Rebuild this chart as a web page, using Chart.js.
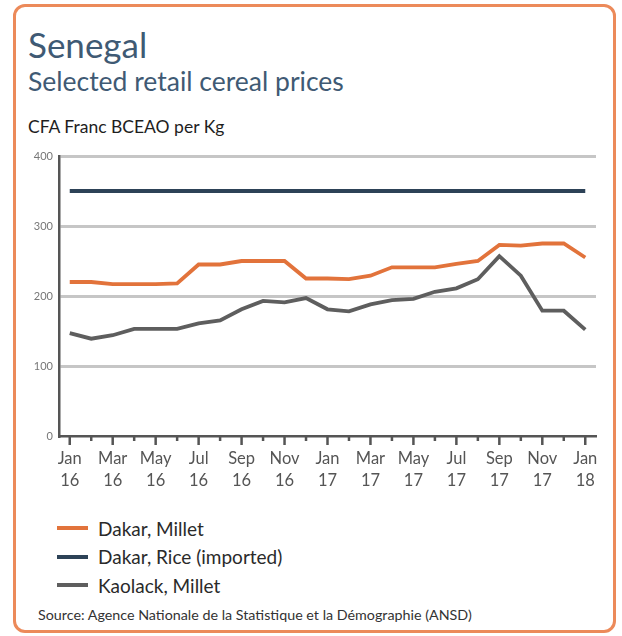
<!DOCTYPE html>
<html>
<head>
<meta charset="utf-8">
<script src="https://cdn.jsdelivr.net/npm/chart.js@4.4.1/dist/chart.umd.min.js"></script>
<style>
  body { margin: 0; background: #fff; font-family: Lato, sans-serif; }
  #card { position: absolute; left: 13px; top: 4px; width: 597px; height: 623px;
          border: 3px solid #ec8a5a; border-radius: 12px; background: #fff; }
  .t { position: absolute; white-space: nowrap; }
  #title { left: 28px; top: 23px; font-size: 35px; color: #3f5a74; }
  #subtitle { left: 28px; top: 65px; font-size: 26.5px; color: #3f5a74; }
  #unit { left: 28px; top: 116px; font-size: 17.5px; color: #1e1e1e; }
  #legend { position: absolute; left: 57px; top: 514px; }
  .item { height: 28.5px; display: flex; align-items: center; font-size: 19px; color: #2a2a2a; }
  .swatch { width: 31px; height: 4px; margin-right: 10px; }
  #source { left: 38px; top: 606px; font-size: 14.3px; color: #333; }
  #wrap { position: absolute; left: 0; top: 0; width: 622px; height: 500px; }
</style>
</head>
<body>
<div id="card"></div>
<div class="t" id="title">Senegal</div>
<div class="t" id="subtitle">Selected retail cereal prices</div>
<div class="t" id="unit">CFA Franc BCEAO per Kg</div>
<div id="wrap"><canvas id="chart"></canvas></div>
<div id="legend"></div>
<div class="t" id="source">Source: Agence Nationale de la Statistique et la Démographie (ANSD)</div>
<script>
// monthly, Jan 16 .. Jan 18
var months = ['Jan 16', 'Feb 16', 'Mar 16', 'Apr 16', 'May 16', 'Jun 16', 'Jul 16', 'Aug 16',
  'Sep 16', 'Oct 16', 'Nov 16', 'Dec 16', 'Jan 17', 'Feb 17', 'Mar 17', 'Apr 17', 'May 17',
  'Jun 17', 'Jul 17', 'Aug 17', 'Sep 17', 'Oct 17', 'Nov 17', 'Dec 17', 'Jan 18'];

var dakarMillet = [220, 220, 217, 217, 217, 218, 245, 245, 250, 250, 250, 225, 225,
  224, 229, 241, 241, 241, 246, 250, 273, 272, 275, 275, 255];
var dakarRice = [350, 350, 350, 350, 350, 350, 350, 350, 350, 350, 350, 350, 350,
  350, 350, 350, 350, 350, 350, 350, 350, 350, 350, 350, 350];
var kaolackMillet = [147, 139, 144, 153, 153, 153, 161, 165, 181, 193, 191, 197, 181,
  178, 188, 194, 196, 206, 211, 224, 257, 229, 179, 179, 152];

var yTicks = [0, 100, 200, 300, 400];

var series = [
  { label: 'Dakar, Millet', data: dakarMillet, color: '#e2733b' },
  { label: 'Dakar, Rice (imported)', data: dakarRice, color: '#2d4257' },
  { label: 'Kaolack, Millet', data: kaolackMillet, color: '#5e5e5e' }
];

// small tick marks under the x axis, longer on labelled months
var xTickMarks = {
  id: 'xTickMarks',
  afterDraw: function (chart) {
    var ctx = chart.ctx, xs = chart.scales.x, bottom = chart.chartArea.bottom;
    ctx.save();
    ctx.strokeStyle = '#555';
    ctx.lineWidth = 2.5;
    for (var i = 0; i < months.length; i++) {
      var x = xs.getPixelForTick(i);
      ctx.beginPath();
      ctx.moveTo(x, bottom);
      ctx.lineTo(x, bottom + (i % 2 === 0 ? 9 : 5));
      ctx.stroke();
    }
    ctx.restore();
  }
};

new Chart(document.getElementById('chart'), {
  type: 'line',
  data: {
    labels: months,
    datasets: series.map(function (s) {
      return {
        label: s.label,
        data: s.data,
        borderColor: s.color,
        backgroundColor: s.color,
        borderWidth: 3.8,
        pointRadius: 0,
        tension: 0,
        fill: false
      };
    })
  },
  options: {
    responsive: true,
    maintainAspectRatio: false,
    animation: false,
    layout: { padding: { left: 19, right: 26, top: 156, bottom: 0 } },
    plugins: { legend: { display: false }, tooltip: { enabled: false } },
    scales: {
      x: {
        offset: true,
        afterFit: function (scale) { scale.height = 64; },
        grid: { offset: false, drawOnChartArea: false, drawTicks: false },
        border: { display: true, color: '#555', width: 2.5 },
        ticks: {
          autoSkip: false,
          maxRotation: 0,
          padding: 12,
          color: '#555',
          font: { family: 'Lato', size: 16.5, lineHeight: 1.3 },
          callback: function (v, i) { return i % 2 === 0 ? months[i].split(' ') : ''; }
        }
      },
      y: {
        min: 0,
        max: 400,
        afterFit: function (scale) { scale.width = 40; },
        afterBuildTicks: function (scale) { scale.ticks = yTicks.map(function (v) { return { value: v }; }); },
        grid: {
          drawTicks: false,
          lineWidth: 3,
          color: function (c) { return c.tick && c.tick.value === 0 ? 'rgba(0,0,0,0)' : '#c6c6c6'; }
        },
        border: { display: true, color: '#555', width: 2.5 },
        ticks: { padding: 6, color: '#777', font: { family: 'Lato', size: 11 } }
      }
    }
  },
  plugins: [xTickMarks]
});

var legend = document.getElementById('legend');
series.forEach(function (s) {
  var row = document.createElement('div');
  row.className = 'item';
  var sw = document.createElement('span');
  sw.className = 'swatch';
  sw.style.background = s.color;
  row.appendChild(sw);
  row.appendChild(document.createTextNode(s.label));
  legend.appendChild(row);
});
</script>
</body>
</html>
